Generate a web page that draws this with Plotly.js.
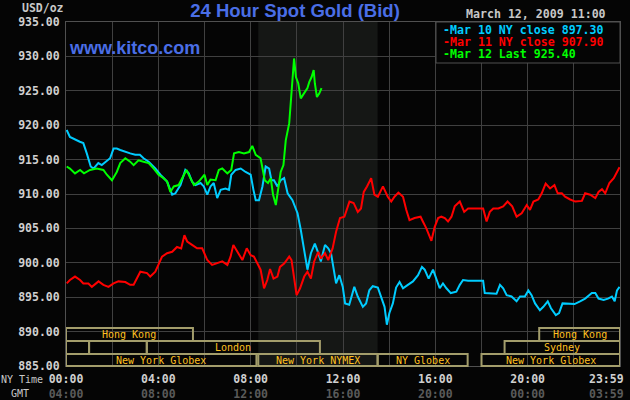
<!DOCTYPE html>
<html>
<head>
<meta charset="utf-8">
<script src="https://cdn.plot.ly/plotly-3.0.1.min.js"></script>
<style>html,body{margin:0;padding:0;background:#050505;}#chart{width:630px;height:400px;}</style>
</head>
<body>
<div id="chart"></div>
<script>
// ---- data: [hour (NY time), price USD/oz] ----
const mar10 = [[0.03,919.3],[0.17,918.3],[0.6,917.6],[0.75,917.4],[0.9,915.9],[1.07,914.0],[1.19,913.7],[1.4,914.5],[1.55,914.2],[1.77,914.9],[1.91,915.2],[2.06,916.6],[2.2,916.6],[2.35,916.4],[2.57,916.1],[2.78,915.9],[3.0,915.7],[3.2,915.7],[3.36,915.2],[3.58,914.7],[3.87,913.7],[4.09,912.8],[4.38,911.8],[4.6,909.9],[4.74,910.1],[4.96,911.3],[5.17,913.5],[5.32,913.0],[5.46,911.8],[5.61,911.3],[5.83,911.6],[5.97,911.1],[6.12,909.9],[6.26,911.1],[6.4,911.6],[6.55,909.4],[6.7,910.6],[6.91,910.8],[7.06,910.6],[7.16,912.8],[7.35,913.5],[7.57,913.7],[7.78,913.2],[8.0,912.8],[8.12,910.6],[8.22,909.1],[8.36,909.1],[8.51,911.1],[8.65,914.0],[8.8,913.7],[8.9,912.0],[9.01,912.0],[9.16,911.1],[9.3,912.0],[9.45,912.3],[9.6,910.1],[9.81,909.1],[10.03,907.2],[10.17,904.8],[10.32,901.9],[10.46,899.0],[10.61,901.4],[10.78,902.8],[10.93,901.4],[11.04,900.2],[11.22,902.6],[11.36,902.1],[11.48,901.4],[11.62,898.5],[11.7,897.0],[11.84,898.2],[11.99,896.5],[12.09,894.1],[12.27,893.9],[12.49,896.5],[12.64,895.1],[12.86,893.6],[13.0,894.1],[13.14,896.0],[13.29,896.6],[13.51,896.4],[13.65,895.1],[13.8,893.6],[13.9,891.0],[14.01,892.7],[14.16,894.1],[14.3,896.4],[14.45,897.2],[14.6,896.3],[14.81,896.8],[15.03,897.3],[15.25,898.2],[15.42,899.4],[15.54,899.0],[15.71,897.7],[15.9,899.0],[16.04,897.7],[16.19,896.3],[16.33,897.0],[16.48,896.3],[16.67,895.6],[16.91,895.8],[17.06,896.8],[17.2,897.5],[17.42,897.4],[17.78,897.4],[18.07,897.4],[18.14,895.6],[18.36,895.6],[18.65,895.5],[18.8,896.8],[18.94,896.3],[19.09,895.3],[19.3,895.1],[19.52,894.4],[19.67,895.1],[19.88,895.1],[20.03,896.0],[20.17,895.3],[20.32,894.1],[20.53,893.1],[20.68,893.6],[20.87,894.4],[21.01,893.4],[21.22,892.4],[21.36,892.7],[21.51,894.1],[21.77,894.0],[22.03,894.0],[22.27,894.4],[22.49,894.8],[22.78,895.6],[22.93,895.6],[23.07,894.8],[23.29,894.6],[23.48,894.8],[23.65,895.1],[23.77,894.4],[23.87,896.0],[23.98,896.5]];

const mar11 = [[0.03,897.0],[0.17,897.5],[0.39,898.0],[0.61,897.5],[0.75,897.0],[0.97,897.0],[1.12,896.5],[1.41,897.3],[1.62,896.8],[1.84,896.5],[2.06,897.0],[2.27,897.3],[2.57,897.2],[2.78,896.8],[2.93,896.8],[3.07,897.7],[3.22,898.7],[3.51,898.5],[3.65,898.0],[3.87,898.7],[4.01,899.9],[4.16,900.9],[4.38,901.4],[4.6,901.6],[4.81,902.3],[4.99,902.1],[5.13,904.0],[5.25,903.1],[5.46,902.6],[5.68,902.1],[5.9,902.1],[6.12,900.4],[6.33,899.7],[6.55,899.9],[6.77,900.2],[6.99,899.7],[7.13,900.9],[7.25,902.6],[7.42,901.6],[7.64,900.4],[7.83,902.1],[8.0,901.1],[8.14,900.9],[8.29,900.0],[8.43,899.0],[8.58,896.3],[8.72,897.5],[8.84,899.1],[8.99,897.7],[9.16,898.0],[9.27,899.4],[9.45,899.9],[9.67,900.9],[9.77,900.4],[9.88,897.5],[9.99,895.3],[10.14,896.3],[10.32,898.0],[10.46,898.7],[10.61,897.7],[10.75,900.2],[10.93,901.6],[11.04,900.6],[11.22,901.4],[11.36,900.4],[11.55,902.1],[11.7,904.5],[11.87,906.5],[12.06,906.7],[12.17,907.7],[12.28,908.9],[12.46,908.7],[12.64,907.4],[12.78,907.9],[12.9,910.3],[13.04,911.1],[13.22,912.3],[13.36,909.9],[13.51,909.6],[13.73,911.1],[13.94,909.6],[14.09,908.9],[14.23,909.6],[14.4,910.2],[14.6,909.6],[14.74,907.7],[14.88,906.2],[15.1,906.5],[15.36,906.7],[15.46,906.0],[15.61,905.0],[15.83,903.2],[15.97,905.2],[16.12,906.5],[16.26,906.7],[16.41,906.5],[16.55,906.0],[16.7,906.7],[16.84,908.2],[17.06,908.9],[17.25,907.4],[17.42,907.9],[17.71,907.9],[18.07,907.9],[18.22,906.0],[18.36,907.4],[18.51,907.9],[18.73,907.9],[18.94,908.2],[19.13,908.9],[19.33,908.2],[19.52,906.7],[19.74,907.2],[19.96,908.4],[20.1,907.7],[20.25,908.9],[20.46,909.2],[20.61,910.1],[20.78,911.5],[20.97,910.8],[21.16,911.3],[21.3,910.1],[21.48,910.1],[21.62,909.6],[21.84,909.2],[22.06,908.9],[22.35,909.0],[22.49,910.1],[22.71,909.9],[22.93,909.4],[23.07,910.3],[23.22,910.7],[23.36,910.1],[23.54,911.6],[23.73,912.3],[23.87,913.2],[23.98,913.9]];

const mar12 = [[0.03,914.0],[0.17,913.7],[0.39,913.0],[0.61,913.5],[0.78,913.0],[1.04,913.5],[1.33,913.7],[1.62,913.5],[1.77,912.8],[1.99,912.0],[2.2,913.2],[2.35,914.5],[2.57,915.2],[2.78,914.7],[2.93,914.2],[3.14,914.9],[3.36,914.7],[3.58,914.5],[3.8,913.7],[4.01,912.8],[4.23,912.3],[4.38,911.8],[4.52,910.3],[4.67,911.1],[4.88,911.3],[5.03,912.3],[5.22,913.5],[5.39,912.3],[5.54,911.3],[5.75,911.8],[6.0,912.8],[6.12,911.3],[6.26,912.1],[6.48,912.0],[6.62,913.5],[6.77,913.7],[6.99,913.0],[7.16,913.5],[7.28,915.9],[7.49,916.1],[7.71,915.9],[7.93,916.1],[8.07,917.0],[8.22,915.7],[8.43,915.2],[8.61,912.0],[8.75,911.6],[8.87,912.3],[8.97,909.9],[9.09,908.4],[9.19,911.1],[9.3,913.2],[9.42,914.2],[9.52,917.8],[9.67,920.3],[9.74,923.4],[9.81,926.1],[9.88,929.7],[9.96,927.0],[10.06,926.1],[10.17,923.9],[10.32,924.6],[10.46,925.4],[10.54,926.3],[10.64,927.0],[10.73,928.0],[10.78,926.1],[10.87,924.1],[10.97,924.6],[11.07,925.4]];

const seriesNames = ["Mar 10 NY close 897.30", "Mar 11 NY close 907.90", "Mar 12 Last 925.40"];
const seriesColors = ["#00ccff", "#ff0000", "#00ff00"];

const yTicks = [885, 890, 895, 900, 905, 910, 915, 920, 925, 930, 935];
const xTickVals = [0, 4, 8, 12, 16, 20, 23.983];
const nyLabels = ["00:00", "04:00", "08:00", "12:00", "16:00", "20:00", "23:59"];
const gmtLabels = ["04:00", "08:00", "12:00", "16:00", "20:00", "00:00", "03:59"];
const xMinorGrid = [2, 6, 10, 14, 18, 22];

// market sessions (hours NY time), row 0 = top row
const sessionNames = ["Hong Kong", "Hong Kong", "", "", "London", "Sydney", "New York Globex", "New York NYMEX", "NY Globex", "New York Globex"];
const sessionStart = [0, 20.5, 0, 1.0, 3.5, 19.0, 0, 8.33, 13.5, 18.0];
const sessionEnd   = [5.5, 24, 1.0, 3.5, 11.0, 24, 8.25, 13.5, 17.4, 24];
const sessionRow   = [0, 0, 1, 1, 1, 1, 2, 2, 2, 2];
const pitStart = 8.33, pitEnd = 13.5;

// ---- layout helpers ----
const W = 630, H = 400, L = 66, R = 10, T = 22, B = 34;
const pw = W - L - R, ph = H - T - B;
const px = v => (v - L) / pw;          // pixel x -> paper
const py = v => (H - B - v) / ph;      // pixel y -> paper
const rowTop = [328, 341, 354], rowBot = [341, 354, 366];

const mono = "DejaVu Sans Mono, monospace";
const traces = [mar10, mar11, mar12].map((s, i) => ({
  type: "scatter", mode: "lines",
  x: s.map(d => d[0]), y: s.map(d => d[1]),
  name: seriesNames[i],
  line: {color: seriesColors[i], width: 2},
  hoverinfo: "skip"
}));

const shapes = [{
  type: "rect", xref: "x", yref: "paper", x0: pitStart, x1: pitEnd, y0: 0, y1: 1,
  fillcolor: "#151715", line: {width: 0}, layer: "below"
}];
const annotations = [];
sessionNames.forEach((n, i) => {
  const r = sessionRow[i];
  shapes.push({
    type: "rect", xref: "x", yref: "paper",
    x0: sessionStart[i], x1: sessionEnd[i], y0: py(rowBot[r]), y1: py(rowTop[r]),
    line: {color: "#a39d6b", width: 2}, fillcolor: "rgba(0,0,0,0)", layer: "above"
  });
  if (n) annotations.push({
    xref: "x", yref: "paper", x: (sessionStart[i] + sessionEnd[i]) / 2,
    y: py((rowTop[r] + rowBot[r]) / 2), text: n, showarrow: false,
    xanchor: "center", yanchor: "middle",
    font: {family: mono, size: 10, color: "#ffc020"}
  });
});

// legend box
shapes.push({
  type: "rect", xref: "paper", yref: "paper", x0: px(436), x1: 1, y0: py(63), y1: 1,
  fillcolor: "#050505", line: {color: "#505050", width: 1}, layer: "above"
});
seriesNames.forEach((n, i) => {
  annotations.push({
    xref: "paper", yref: "paper", x: px(441), y: py(29 + 12 * i),
    xanchor: "left", yanchor: "middle", showarrow: false, height: 11, valign: "middle",
    text: "-" + n, font: {family: mono, size: 11.6, color: seriesColors[i], weight: "bold"}
  });
});

// last tick label (23:59 / 03:59) kept inside the picture, right-aligned like the reference
const lastI = nyLabels.length - 1;
annotations.push(
  {xref: "paper", yref: "paper", x: px(626), y: py(379), xanchor: "right", yanchor: "middle", showarrow: false,
   text: nyLabels[lastI], font: {family: mono, size: 11.5, color: "#d0d0d0", weight: "bold"}},
  {xref: "paper", yref: "paper", x: px(626), y: py(393.5), xanchor: "right", yanchor: "middle", showarrow: false,
   text: gmtLabels[lastI], font: {family: mono, size: 11.5, color: "#5a5a5a", weight: "bold"}},
  {xref: "paper", yref: "paper", x: px(20), y: py(8), xanchor: "left", yanchor: "middle", showarrow: false,
   text: "USD/oz", font: {family: mono, size: 11.5, color: "#c8c8c8", weight: "bold"}},
  {xref: "paper", yref: "paper", x: px(608), y: py(14), xanchor: "right", yanchor: "middle", showarrow: false,
   text: "March 12, 2009 11:00", font: {family: mono, size: 11.6, color: "#c8c8c8", weight: "bold"}},
  {xref: "paper", yref: "paper", x: px(67), y: py(48), xanchor: "left", yanchor: "middle", showarrow: false,
   text: "www.kitco.com", font: {family: "Liberation Sans, Arial, sans-serif", size: 18, color: "#4a6ee6", weight: "bold"}},
  {xref: "paper", yref: "paper", x: px(45), y: py(379), xanchor: "right", yanchor: "middle", showarrow: false,
   text: "NY Time", font: {family: mono, size: 10, color: "#c8c8c8"}},
  {xref: "paper", yref: "paper", x: px(20), y: py(393), xanchor: "center", yanchor: "middle", showarrow: false,
   text: "GMT", font: {family: mono, size: 10, color: "#c8c8c8"}}
);

const layout = {
  width: W, height: H,
  margin: {l: L, r: R, t: T, b: B, pad: 0},
  paper_bgcolor: "#050505", plot_bgcolor: "#050505",
  showlegend: false,
  title: {
    text: "24 Hour Spot Gold (Bid)", xref: "paper", x: px(295), xanchor: "center",
    yref: "container", y: 1 - 11 / H, yanchor: "middle",
    font: {family: "Liberation Sans, Arial, sans-serif", size: 18.5, color: "#4a6ee6", weight: "bold"}
  },
  xaxis: {
    range: [0, 24], tickmode: "array", tickvals: xTickVals,
    ticktext: nyLabels.map((t, i) => i === lastI ? "" :
      t + "<br><span style='color:#5a5a5a'>" + gmtLabels[i] + "</span>"),
    showgrid: true, gridcolor: "#404040", gridwidth: 1,
    minor: {tickmode: "array", tickvals: xMinorGrid, showgrid: true, gridcolor: "#404040", gridwidth: 1, ticks: ""},
    showline: true, mirror: true, linecolor: "#505050", linewidth: 1, zeroline: false,
    ticks: "outside", ticklen: 2, tickcolor: "rgba(0,0,0,0)",
    tickfont: {family: mono, size: 11.5, color: "#d0d0d0", weight: "bold"},
    fixedrange: true
  },
  yaxis: {
    range: [885, 935], tickmode: "array", tickvals: yTicks,
    ticktext: yTicks.map(v => v.toFixed(2)),
    showgrid: true, gridcolor: "#404040", gridwidth: 1,
    showline: true, mirror: true, linecolor: "#505050", linewidth: 1, zeroline: false,
    ticks: "outside", ticklen: 3, tickcolor: "rgba(0,0,0,0)",
    tickfont: {family: mono, size: 11.5, color: "#d0d0d0", weight: "bold"},
    fixedrange: true
  },
  shapes: shapes,
  annotations: annotations
};

Plotly.newPlot("chart", traces, layout, {staticPlot: true, displayModeBar: false});
</script>
</body>
</html>
